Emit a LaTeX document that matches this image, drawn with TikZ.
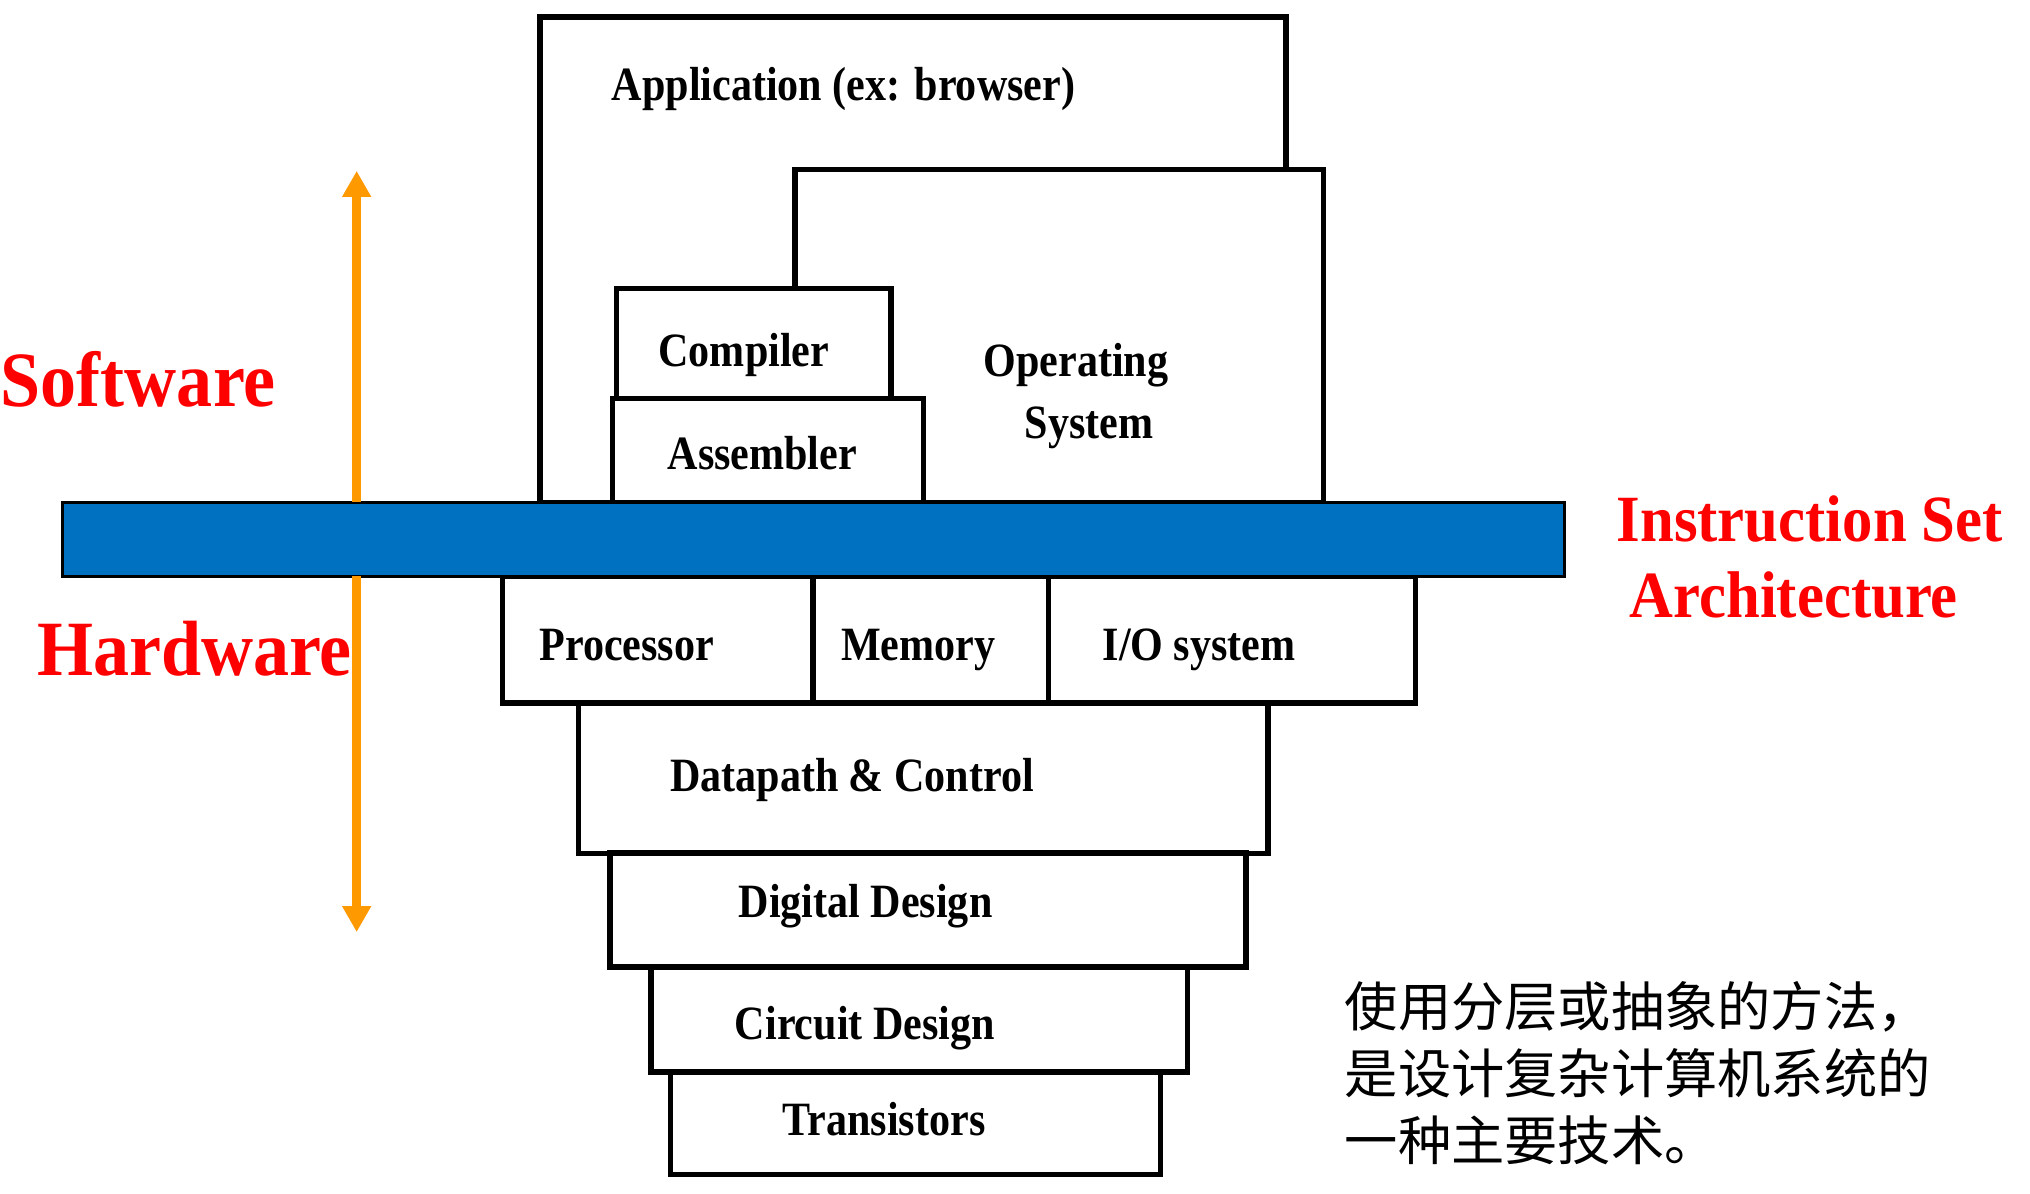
\documentclass[tikz,border=0pt]{standalone}
\usepackage{fontspec}
\usepackage{xcolor}
\setmainfont{Liberation Serif}
\newfontfamily\layerfont{Liberation Serif}[FakeStretch=0.88]
\newfontfamily\sidefont{Liberation Serif}[FakeStretch=0.92]
\newfontfamily\cjkfont{Noto Sans CJK SC}
\usetikzlibrary{positioning, calc, arrows.meta}

\definecolor{isablue}{RGB}{0,112,192}
\definecolor{hsorange}{RGB}{255,153,0}

\begin{document}
\begin{tikzpicture}[
    x=0.01cm, y=-0.01cm,
    layer/.style={
        rectangle,
        draw,
        line width=1.2pt,
        fill=white,
        inner sep=0pt,
        outer sep=0pt,
        anchor=north west
    },
    layertext/.style={
        font=\layerfont\bfseries\fontsize{10.5}{12}\selectfont,
        anchor=base west,
        inner sep=0pt
    },
    sidetext/.style={
        font=\sidefont\bfseries\fontsize{17.2}{20}\selectfont,
        text=red,
        anchor=base west,
        inner sep=0pt
    },
    isatext/.style={
        sidetext,
        font=\sidefont\bfseries\fontsize{14.5}{17}\selectfont
    },
    hsarrow/.style={
        -{Triangle[width=0.21cm, length=0.2cm]},
        draw=hsorange,
        line width=1.9pt
    }
]

\useasboundingbox (0,0) rectangle (1568,922);

% Software side
\node[layer, minimum width=5.76cm, minimum height=3.75cm] (app) at (417,13) {};
\node[layer, minimum width=4.08cm, minimum height=2.57cm] (os) at (614,131) {};
\node[layer, minimum width=2.12cm, minimum height=0.85cm] (comp) at (476,223) {};
\node[layer, minimum width=2.40cm, minimum height=0.80cm] (asm) at (473,308) {};

\node[layertext] (applbl) at (472,78) {Application (ex: browser)};
\node[layertext] (complbl) at (508,283) {Compiler};
\node[layertext] (oslbl) at (759,291) {Operating};
\node[layertext] (syslbl) at (791,339) {System};
\node[layertext] (asmlbl) at (515,363) {Assembler};

% Hardware side
\node[layer, minimum width=2.40cm, minimum height=0.98cm] (proc) at (388,445) {};
\node[layer, minimum width=1.82cm, minimum height=0.98cm] (mem) at (628,445) {};
\node[layer, minimum width=2.83cm, minimum height=0.98cm] (io) at (810,445) {};
\node[layer, minimum width=5.32cm, minimum height=1.16cm] (dpc) at (447,543) {};
\node[layer, minimum width=4.91cm, minimum height=0.88cm] (dig) at (471,659) {};
\node[layer, minimum width=4.14cm, minimum height=0.81cm] (circ) at (503,747) {};
\node[layer, minimum width=3.78cm, minimum height=0.79cm] (trans) at (518,828) {};

\node[layertext] (proclbl) at (416,510) {Processor};
\node[layertext] (memlbl) at (649,510) {Memory};
\node[layertext] (iolbl) at (851,510) {I/O system};
\node[layertext] (dpclbl) at (517,611) {Datapath \& Control};
\node[layertext] (diglbl) at (570,709) {Digital Design};
\node[layertext] (circlbl) at (567,803) {Circuit Design};
\node[layertext] (translbl) at (604,877) {Transistors};

% ISA bar
\node[rectangle, draw, line width=0.7pt, fill=isablue, inner sep=0pt, outer sep=0pt,
      anchor=north west, minimum width=11.60cm, minimum height=0.57cm] (isa) at (48,388) {};

% Arrows
\coordinate (swtip) at (275.5,132);
\coordinate (hwtip) at (275.5,720);
\draw[hsarrow] (swtip |- isa.north) -- (swtip);
\draw[hsarrow] (hwtip |- isa.south) -- (hwtip);

% Side texts
\node[sidetext] (sw) at (0,314) {Software};
\node[sidetext] (hw) at (28,522) {Hardware};
\node[isatext] (isa1) at (1248,418) {Instruction Set};
\node[isatext] (isa2) at (1258,477) {Architecture};

\node[anchor=north west, align=left, inner sep=0pt,
      font=\cjkfont\fontsize{11.7}{14.8}\selectfont] (note) at (1038,757)
      {使用分层或抽象的方法，\\是设计复杂计算机系统的\\一种主要技术。};

\end{tikzpicture}
\end{document}
